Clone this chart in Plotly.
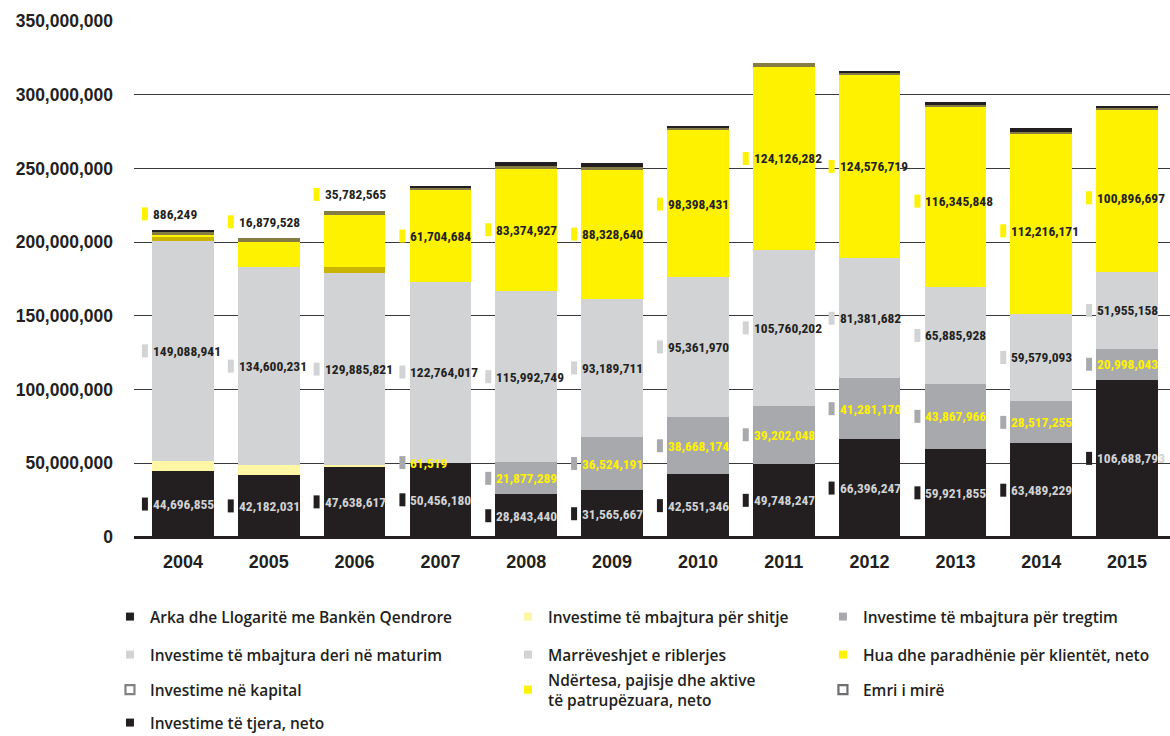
import plotly.graph_objects as go

# Balance-sheet asset structure by year (values in ALL)
years = ["2004", "2005", "2006", "2007", "2008", "2009",
         "2010", "2011", "2012", "2013", "2014", "2015"]

arka = [44696855, 42182031, 47638617, 50456180, 28843440, 31565667,
        42551346, 49748247, 66396247, 59921855, 63489229, 106688793]
shitje = [7000000, 6400000, 1300000, 0, 0, 0, 0, 0, 0, 0, 0, 0]
tregtim = [0, 0, 0, 61519, 21877289, 36524191,
           38668174, 39202048, 41281170, 43867966, 28517255, 20998043]
maturim = [149088941, 134600231, 129885821, 122764017, 115992749, 93189711,
           95361970, 105760202, 81381682, 65885928, 59579093, 51955158]
riblerjes = [2900000, 0, 4100000, 0, 0, 0, 0, 0, 0, 0, 0, 0]
hua = [886249, 16879528, 35782565, 61704684, 83374927, 88328640,
       98398431, 124126282, 124576719, 116345848, 112216171, 100896697]
ndertesa = [0, 0, 0, 1000000, 0, 0, 1100000, 0, 0, 5700000, 9600000, 9300000]
kapital = [2200000, 2700000, 2700000, 900000, 1300000, 1300000,
           1600000, 2700000, 1200000, 1500000, 1100000, 1200000]
emri = [0, 0, 0, 0, 0, 0, 0, 0, 0, 0, 0, 0]
tjera = [1400000, 0, 0, 1100000, 2700000, 2700000,
         1100000, 0, 1000000, 1800000, 2600000, 1300000]

y_ticks = [0, 50000000, 100000000, 150000000, 200000000, 250000000, 300000000, 350000000]

BLACK = "#231f20"
PALE_YELLOW = "#fff6a6"
MID_GRAY = "#a7a9ac"
LIGHT_GRAY = "#d1d3d4"
DARK_YELLOW = "#c9b400"
YELLOW = "#fff200"
OLIVE = "#857c43"

# (values, bar colour) in stacking order, bottom to top
stack = [
    (arka, BLACK),
    (shitje, PALE_YELLOW),
    (tregtim, MID_GRAY),
    (maturim, LIGHT_GRAY),
    (riblerjes, DARK_YELLOW),
    (hua, YELLOW),
    (ndertesa, YELLOW),
    (kapital, OLIVE),
    (emri, "#6d6e71"),
    (tjera, BLACK),
]

xpos = list(range(len(years)))

fig = go.Figure()
for vals, col in stack:
    fig.add_trace(go.Bar(
        x=xpos, y=vals, marker=dict(color=col, line=dict(width=0)),
        showlegend=False, hoverinfo="skip",
    ))

# legend entries: (text, fill, outline, column, row); one small legend box per entry
legend_entries = [
    ("Arka dhe Llogaritë me Bankën Qendrore", BLACK, None, 0, 0),
    ("Investime të mbajtura për shitje", PALE_YELLOW, None, 1, 0),
    ("Investime të mbajtura për tregtim", MID_GRAY, None, 2, 0),
    ("Investime të mbajtura deri në maturim", LIGHT_GRAY, None, 0, 1),
    ("Marrëveshjet e riblerjes", LIGHT_GRAY, None, 1, 1),
    ("Hua dhe paradhënie për klientët, neto", YELLOW, None, 2, 1),
    ("Investime në kapital", "#ffffff", "#808285", 0, 2),
    ("Ndërtesa, pajisje dhe aktive<br>të patrupëzuara, neto", YELLOW, None, 1, 2),
    ("Emri i mirë", "#ffffff", "#6d6e71", 2, 2),
    ("Investime të tjera, neto", BLACK, None, 0, 3),
]
col_x = [-0.0232, 0.361, 0.665]
row_center_px = [617, 655, 690, 723]

legend_style = dict(
    orientation="v", yanchor="middle", xanchor="left", yref="container",
    bgcolor="rgba(0,0,0,0)", itemclick=False, itemdoubleclick=False,
    font=dict(family="Open Sans", size=15.5, color=BLACK, weight=600),
)
legend_layout = {}
for k, (name, fill, edge, c, r) in enumerate(legend_entries):
    key = "legend" if k == 0 else f"legend{k + 1}"
    fig.add_trace(go.Scatter(
        x=[None], y=[None], mode="markers", name=name, legend=key,
        marker=dict(symbol="square", size=8 if edge is None else 9, color=fill,
                    line=dict(width=2.2 if edge else 0, color=edge or fill)),
    ))
    legend_layout[key] = dict(x=col_x[c], y=1 - row_center_px[r] / 736, **legend_style)

# value labels with small colour keys
label_font = dict(family="Roboto Condensed, Noto Sans Condensed, Roboto", size=13.5, weight="bold")
cum = [0] * len(years)
bases = []
for vals, _ in stack:
    bases.append(list(cum))
    cum = [c + v for c, v in zip(cum, vals)]
totals = cum

labelled = [
    (0, arka, BLACK, LIGHT_GRAY),
    (2, tregtim, MID_GRAY, YELLOW),
    (3, maturim, LIGHT_GRAY, BLACK),
    (5, hua, YELLOW, BLACK),
]
annotations = []
shapes = []
for idx, vals, key_col, txt_col in labelled:
    for i in xpos:
        v = vals[i]
        if v == 0:
            continue
        if idx == 5 and v < 40000000:
            ly = totals[i] + 11000000
        else:
            ly = bases[idx][i] + v / 2
        shapes.append(dict(
            type="rect", xref="x", yref="y", xsizemode="pixel", ysizemode="pixel",
            xanchor=i, yanchor=ly, x0=-41, x1=-35, y0=-6.5, y1=6.5,
            fillcolor=key_col, line=dict(width=0), layer="above",
        ))
        annotations.append(dict(
            x=i, y=ly, xref="x", yref="y", text=f"{v:,}", showarrow=False,
            xanchor="left", xshift=-32, font=dict(color=txt_col, **label_font),
        ))

fig.update_layout(
    width=1170, height=736,
    margin=dict(l=134, r=0, t=21, b=198.5, autoexpand=False),
    plot_bgcolor="white", paper_bgcolor="white",
    barmode="stack", bargap=0.28,
    showlegend=True,
    xaxis=dict(
        range=[-0.57, 11.5], showgrid=False, ticks="", zeroline=False,
        tickvals=xpos, ticktext=years,
        tickfont=dict(family="Liberation Sans", size=18, color=BLACK, weight="bold"),
        ticklabelstandoff=12, showline=False,
    ),
    yaxis=dict(
        range=[0, 350000000], tickvals=y_ticks, tickformat=",",
        showgrid=True, gridcolor="#3a3a3a", gridwidth=1.3,
        zeroline=True, zerolinecolor=BLACK, zerolinewidth=2.5,
        ticks="", ticklabelstandoff=20,
        tickfont=dict(family="Liberation Sans", size=17.5, color=BLACK, weight="bold"),
    ),
    annotations=annotations,
    shapes=shapes,
    **legend_layout,
)

fig.write_html("out.html")
